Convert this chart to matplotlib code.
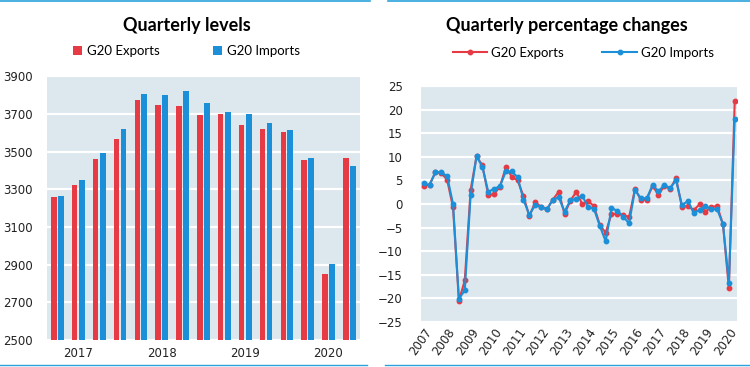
import numpy as np
import matplotlib
matplotlib.use('Agg')
import matplotlib.pyplot as plt
from matplotlib.lines import Line2D

# data
lvl_quarters = ['2017Q1', '2017Q2', '2017Q3', '2017Q4', '2018Q1', '2018Q2', '2018Q3', '2018Q4',
                '2019Q1', '2019Q2', '2019Q3', '2019Q4', '2020Q1', '2020Q2', '2020Q3']
exports_lvl = [3261, 3324, 3460, 3569, 3772, 3748, 3739, 3692, 3697, 3642, 3619, 3605, 3454, 2852, 3463]
imports_lvl = [3265, 3348, 3491, 3619, 3803, 3799, 3822, 3757, 3711, 3697, 3651, 3614, 3468, 2902, 3422]
lvl_years = ['2017', '2018', '2019', '2020']

pct_quarters = ['2007Q2', '2007Q3', '2007Q4'] + ['%dQ%d' % (y, q) for y in range(2008, 2020) for q in (1, 2, 3, 4)] \
    + ['2020Q1', '2020Q2', '2020Q3']
exports_pct = [3.9, 4.1, 6.7, 6.6, 5.1, -0.7, -20.5, -16.2, 3.0, 10.1, 8.2, 1.9, 2.1, 3.7, 7.8, 5.8, 5.0, 1.7,
               -2.6, 0.4, -0.6, -1.1, 0.9, 2.6, -2.1, 0.7, 2.6, 0.0, 0.6, -0.4, -4.4, -6.1, -2.1, -2.1, -2.3,
               -2.8, 3.2, 0.9, 0.9, 3.9, 1.9, 3.9, 3.2, 5.5, -0.7, -0.4, -1.3, -0.1, -1.6, -0.7, -0.4, -4.3,
               -17.8, 21.8]
imports_pct = [4.4, 4.0, 6.8, 6.7, 5.9, 0.0, -20.1, -18.3, 1.9, 10.1, 7.9, 2.6, 3.2, 3.8, 6.9, 6.9, 5.7, 0.9,
               -2.3, -0.2, -0.6, -1.1, 0.9, 1.4, -1.6, 0.8, 1.1, 1.8, -0.6, -1.0, -4.6, -7.9, -0.9, -1.4, -2.7,
               -4.1, 3.0, 1.2, 1.2, 4.0, 2.7, 4.0, 3.4, 5.0, -0.2, 0.6, -1.8, -1.3, -0.4, -1.1, -1.1, -4.3,
               -16.7, 18.1]
pct_years = [str(y) for y in range(2007, 2021)]

RED = '#e63a44'
BLUE = '#1b8fd8'
BG = '#dde7ee'
EDGE = '#2aa3dc'

fig = plt.figure(figsize=(7.5, 3.67), dpi=100)

def style(ax):
    ax.set_facecolor(BG)
    for s in ax.spines.values():
        s.set_visible(False)
    ax.grid(axis='y', color='white', linewidth=1.6)
    ax.set_axisbelow(True)
    ax.tick_params(length=0, labelsize=8.5, colors='#222222')

# left: quarterly levels
ax1 = fig.add_axes([0.0627, 0.0736, 0.417, 0.719])
style(ax1)
x = np.arange(len(lvl_quarters))
ax1.bar(x - 0.17, exports_lvl, width=0.26, color=RED, label='G20 Exports')
ax1.bar(x + 0.17, imports_lvl, width=0.28, color=BLUE, label='G20 Imports')
ax1.set_ylim(2500, 3900)
ax1.set_yticks(range(2500, 3901, 200))
ax1.set_xlim(-0.5, len(x) - 0.5)
ax1.set_xticks([lvl_quarters.index(y + 'Q2') for y in lvl_years])
ax1.set_xticklabels(lvl_years)
ax1.tick_params(axis='y', pad=10)
ax1.tick_params(axis='x', pad=5)
ax1.legend(loc='center', bbox_to_anchor=(0.446, 1.095), ncol=2, frameon=False,
           prop={'family': 'Lato', 'size': 9.5}, handlelength=0.7, handleheight=0.7,
           handletextpad=0.4, columnspacing=4.0, borderaxespad=0)
fig.text(187 / 750, 1 - 25 / 367, 'Quarterly levels', ha='center', va='center',
         family='Lato', weight='bold', size=13)

# right: quarterly percentage changes
ax2 = fig.add_axes([0.561, 0.1226, 0.421, 0.643])
style(ax2)
xp = np.arange(len(pct_quarters))
ax2.plot(xp, exports_pct, color=RED, marker='o', markersize=3.2, linewidth=1.5, label='G20 Exports')
ax2.plot(xp, imports_pct, color=BLUE, marker='o', markersize=3.2, linewidth=1.5, label='G20 Imports')
ax2.set_ylim(-25, 25)
ax2.set_yticks(range(-25, 26, 5))
ax2.set_xlim(-0.5, len(xp) - 0.7)
ax2.set_xticks(np.arange(0, len(xp), 4))
ax2.set_xticklabels(pct_years, rotation=55, ha='right', rotation_mode='anchor')
ax2.tick_params(axis='y', pad=13)
ax2.tick_params(axis='x', pad=3)
ax2.legend(loc='center', bbox_to_anchor=(0.515, 1.14), ncol=2, frameon=False,
           prop={'family': 'Lato', 'size': 9.5}, handlelength=2.6, handletextpad=0.3,
           columnspacing=2.9, borderaxespad=0)
fig.text(567 / 750, 1 - 25 / 367, 'Quarterly percentage changes', ha='center', va='center',
         family='Lato', weight='bold', size=13)

# thin blue rules at top and bottom of each panel
for x0, x1 in [(0, 370), (388, 750)]:
    fig.add_artist(Line2D([x0 / 750, x1 / 750], [0.998, 0.998], color=EDGE, linewidth=1.2))
for x0, x1 in [(0, 367), (385, 750)]:
    fig.add_artist(Line2D([x0 / 750, x1 / 750], [1 - 365 / 367, 1 - 365 / 367], color=EDGE, linewidth=1.0))

fig.savefig('out.png', dpi=100)
